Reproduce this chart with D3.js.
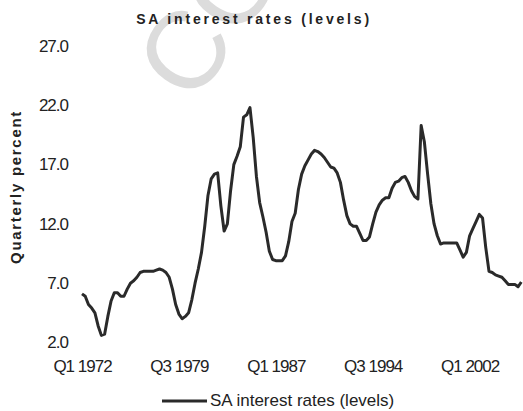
<!DOCTYPE html>
<html lang="en">
<head>
    <meta charset="UTF-8">
    <title>SA interest rates (levels)</title>
    <script src="https://cdn.jsdelivr.net/npm/d3@7"></script>
    <style>
        body { margin: 0; background: #fff; }
        svg { display: block; }
    </style>
</head>
<body>
    <script>
        // quarterly levels, Q1 1972 .. Q1 2006
        const startYear = 1972;
        const rates = [
            6.1, 5.9, 5.2, 4.9, 4.5, 3.4, 2.6, 2.7, 4.2, 5.5,
            6.2, 6.2, 5.9, 5.9, 6.5, 7.0, 7.2, 7.5, 7.9, 8.0,
            8.0, 8.0, 8.0, 8.1, 8.2, 8.1, 7.9, 7.5, 6.5, 5.2,
            4.4, 4.0, 4.2, 4.5, 5.6, 7.0, 8.2, 9.6, 11.8, 14.4,
            15.8, 16.2, 16.3, 13.5, 11.4, 12.0, 14.8, 17.0, 17.7, 18.5,
            21.0, 21.2, 21.8, 19.3, 16.0, 13.8, 12.6, 11.3, 9.7, 9.0,
            8.9, 8.9, 8.9, 9.3, 10.5, 12.2, 12.9, 14.9, 16.2, 16.9,
            17.4, 17.9, 18.2, 18.1, 17.9, 17.6, 17.2, 16.8, 16.7, 16.3,
            15.5, 14.0, 12.7, 12.0, 11.8, 11.8, 11.2, 10.6, 10.6, 10.9,
            12.0, 13.0, 13.6, 14.0, 14.2, 14.2, 15.0, 15.5, 15.6, 15.9,
            16.0, 15.5, 14.8, 14.3, 14.1, 20.3, 18.9, 16.2, 13.7, 12.0,
            11.0, 10.3, 10.4, 10.4, 10.4, 10.4, 10.4, 9.8, 9.2, 9.6,
            11.0, 11.6, 12.2, 12.8, 12.5, 10.0, 8.0, 7.9, 7.7, 7.6,
            7.5, 7.2, 6.9, 6.9, 6.9, 6.7, 7.1
        ];
        const quarters = rates.map((_, i) =>
            `Q${i % 4 + 1} ${startYear + Math.floor(i / 4)}`);
        const xTickLabels = ["Q1 1972", "Q3 1979", "Q1 1987", "Q3 1994", "Q1 2002"];
        const yTicks = [2, 7, 12, 17, 22, 27];

        const width = 523;
        const height = 411;

        const svg = d3.select("body").append("svg")
            .attr("width", width)
            .attr("height", height)
            .attr("viewBox", [0, 0, width, height]);

        // faint watermark
        svg.append("text")
            .attr("transform", "translate(193,106) rotate(-55)")
            .attr("font-family", "Liberation Sans, Arial, sans-serif")
            .attr("font-size", 110)
            .attr("fill", "#dcdcdc")
            .text("CO");

        const x = d3.scalePoint()
            .domain(quarters)
            .range([82, 521.3]);

        const y = d3.scaleLinear()
            .domain([2, 27])
            .range([342.5, 46]);

        const tickFont = g => g
            .attr("font-family", "Liberation Sans, Arial, sans-serif")
            .attr("font-size", 17)
            .attr("letter-spacing", "-1px")
            .attr("fill", "#222");

        const xAxis = g => g
            .attr("transform", "translate(0,356)")
            .call(d3.axisBottom(x).tickValues(xTickLabels).tickSize(0).tickPadding(0))
            .call(g => g.select(".domain").remove())
            .call(g => g.selectAll("text").call(tickFont).attr("dy", "0.95em"));

        const yAxis = g => g
            .attr("transform", "translate(68,0)")
            .call(d3.axisLeft(y).tickValues(yTicks).tickFormat(d3.format(".1f"))
                .tickSize(0).tickPadding(0))
            .call(g => g.select(".domain").remove())
            .call(g => g.selectAll("text").call(tickFont).attr("dy", "0.3em"));

        svg.append("g").call(xAxis);
        svg.append("g").call(yAxis);

        const line = d3.line()
            .x((d, i) => x(quarters[i]))
            .y(d => y(d));

        svg.append("path")
            .datum(rates)
            .attr("fill", "none")
            .attr("stroke", "#2a2a2a")
            .attr("stroke-width", 3)
            .attr("stroke-linejoin", "round")
            .attr("d", line);

        // title
        svg.append("text")
            .attr("x", 254)
            .attr("y", 24)
            .attr("text-anchor", "middle")
            .attr("font-family", "Liberation Sans, Arial, sans-serif")
            .attr("font-weight", "bold")
            .attr("font-size", 14)
            .attr("letter-spacing", "2.8px")
            .attr("fill", "#222")
            .text("SA interest rates (levels)");

        // y axis title
        svg.append("text")
            .attr("transform", "translate(21,187) rotate(-90)")
            .attr("text-anchor", "middle")
            .attr("font-family", "Liberation Sans, Arial, sans-serif")
            .attr("font-weight", "bold")
            .attr("font-size", 15)
            .attr("letter-spacing", "1.7px")
            .attr("fill", "#222")
            .text("Quarterly percent");

        // legend
        const legend = svg.append("g").attr("transform", "translate(162,401)");
        legend.append("line")
            .attr("x1", 0).attr("x2", 45)
            .attr("stroke", "#2a2a2a")
            .attr("stroke-width", 3);
        legend.append("text")
            .attr("x", 48)
            .attr("y", 5)
            .attr("font-family", "Liberation Sans, Arial, sans-serif")
            .attr("font-size", 17)
            .attr("fill", "#222")
            .text("SA interest rates (levels)");
    </script>
</body>
</html>
